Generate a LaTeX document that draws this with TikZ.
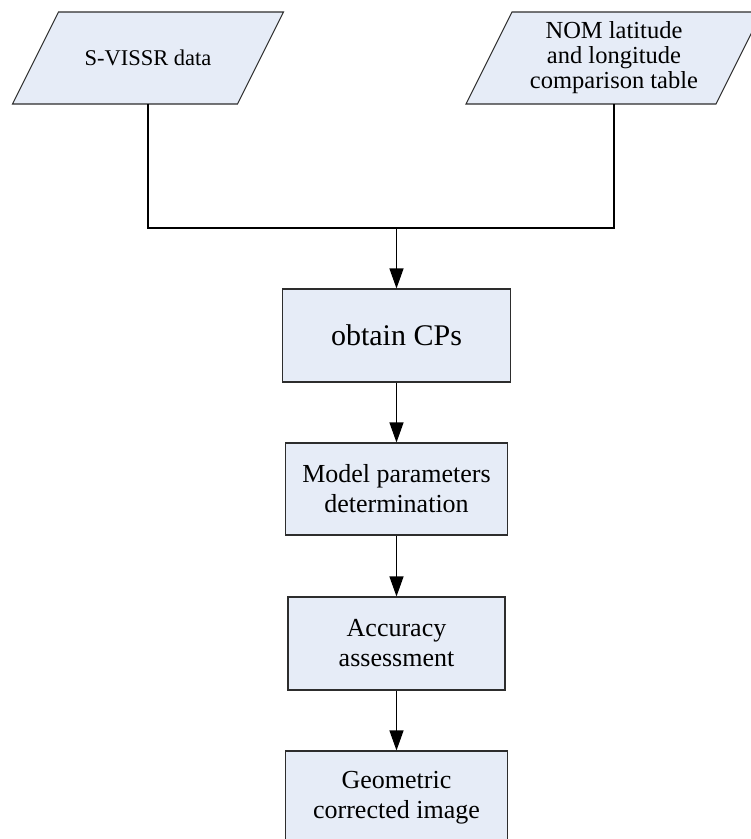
\documentclass[tikz,border=0pt]{standalone}
\usepackage{fontspec}
\setmainfont{Liberation Serif}
\usetikzlibrary{arrows.meta}
\definecolor{boxfill}{RGB}{230,236,247}
\definecolor{boxline}{RGB}{45,45,45}
\begin{document}
\begin{tikzpicture}[x=1pt,y=-1pt,
  proc/.style={draw=boxline, fill=boxfill, line width=1.1pt, minimum height=93pt, inner sep=0pt, align=center, font=\fontsize{26}{30}\selectfont},
  iobox/.style={draw=boxline, fill=boxfill, line width=1.1pt, line join=miter},
  iotext/.style={minimum height=92pt, inner sep=0pt, align=center},
  flow/.style={line width=1.1pt, -{Triangle[length=20pt,width=14pt]}},
  link/.style={line width=1.1pt}
]
\useasboundingbox (0,0) rectangle (751,839);
% input parallelograms
\path[iobox] (148,58) ++(-89.5,-46) -- ++(225,0) -- ++(-46,92) -- ++(-225,0) -- cycle;
\path[iobox] (614,58) ++(-102,-46) -- ++(250,0) -- ++(-46,92) -- ++(-250,0) -- cycle;
\node[iotext, minimum width=225pt, font=\fontsize{22.5}{26}\selectfont] (sv) at (148,58) {S-VISSR data};
\node[iotext, minimum width=250pt, font=\fontsize{24.5}{25}\selectfont] (nom) at (614,58) {NOM latitude\\and longitude\\comparison table};
% process boxes
\node[proc, minimum width=228pt, font=\fontsize{30}{34}\selectfont] (cps) at (396.5,335.5) {obtain CPs};
\node[proc, minimum width=222pt, minimum height=92pt] (mp) at (396.5,489) {Model parameters\\determination};
\node[proc, minimum width=217pt] (acc) at (396.5,643.5) {Accuracy\\assessment};
\node[proc, minimum width=222pt] (geo) at (396.5,797.5) {Geometric\\corrected image};
% connectors
\coordinate (j) at (cps.north |- {(0,228)});
\draw[link] (sv.south) |- (j) -| (nom.south);
\draw[flow] (j) -- (cps.north);
\draw[flow] (cps.south) -- (cps.south |- mp.north);
\draw[flow] (mp.south) -- (mp.south |- acc.north);
\draw[flow] (acc.south) -- (acc.south |- geo.north);
\end{tikzpicture}
\end{document}
